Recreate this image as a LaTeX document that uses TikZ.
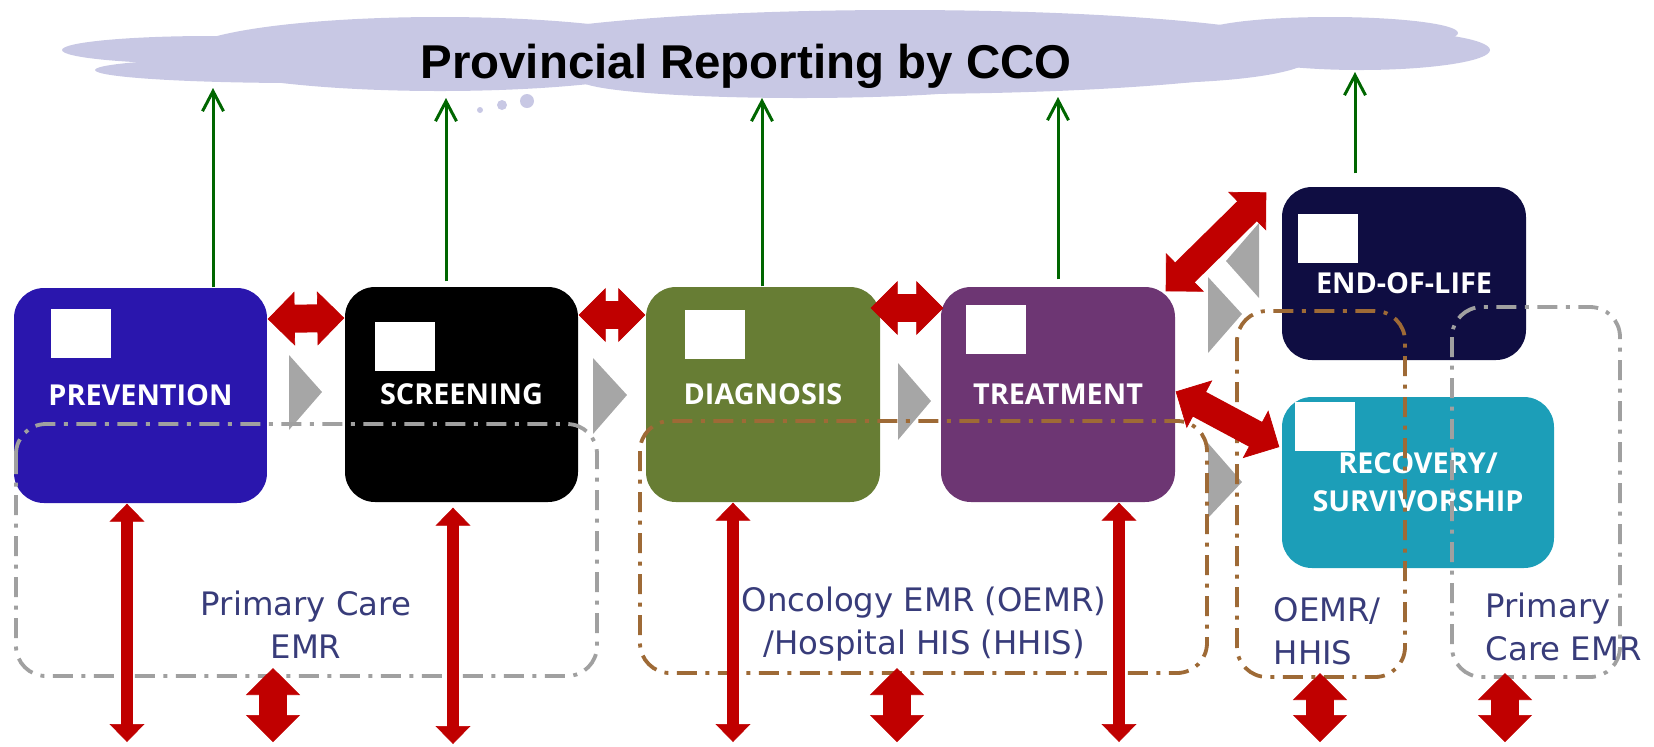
\documentclass[tikz,border=0pt]{standalone}
\usepackage{fontspec}
\setmainfont{DejaVu Sans}
\newfontfamily\stagefont{Open Sans}
\newfontfamily\cloudfont{Liberation Sans}
\usetikzlibrary{arrows.meta}

\definecolor{prevblue}{RGB}{42,22,173}
\definecolor{diaggreen}{RGB}{103,125,52}
\definecolor{treatpurple}{RGB}{109,54,115}
\definecolor{eolnavy}{RGB}{15,13,66}
\definecolor{recteal}{RGB}{28,158,184}
\definecolor{cloudlav}{RGB}{200,200,228}
\definecolor{linkred}{RGB}{192,0,0}
\definecolor{upgreen}{RGB}{0,102,0}
\definecolor{emrgrey}{RGB}{160,160,160}
\definecolor{emrbrown}{RGB}{158,106,54}
\definecolor{chevgrey}{RGB}{166,166,166}
\definecolor{emrtext}{RGB}{56,60,122}

\tikzset{
  stage/.style={rounded corners=3mm, inner sep=0pt, text=white, align=center,
    font=\stagefont\bfseries\fontsize{8.2}{10.8}\selectfont},
  icon/.style={fill=white, inner sep=0pt, minimum width=6mm, minimum height=4.9mm},
  report/.style={upgreen, line width=0.3mm, -{Straight Barb[length=2mm,width=2.1mm]}},
  fatlink/.style={linkred, line width=0.2pt,
    {Triangle[length=2.7mm,width=5.4mm]}-{Triangle[length=2.7mm,width=5.4mm]},
    preaction={draw=linkred, arrows=-, line width=2.8mm, shorten <=2.2mm, shorten >=2.2mm}},
  thinlink/.style={linkred, line width=0.2pt,
    {Triangle[length=1.8mm,width=3.5mm]}-{Triangle[length=1.8mm,width=3.5mm]},
    preaction={draw=linkred, arrows=-, line width=1.2mm, shorten <=1.4mm, shorten >=1.4mm}},
  emrbox/.style={line width=0.38mm, rounded corners=3mm,
    dash pattern=on 2mm off 0.85mm on 0.4mm off 0.85mm},
  emrlabel/.style={text=emrtext, inner sep=0pt, font=\fontsize{9.2}{12.2}\selectfont}
}

\begin{document}
\begin{tikzpicture}[x=0.1mm,y=-0.1mm]
\useasboundingbox (0,0) rectangle (1654,746);

% cloud
\fill[cloudlav] (210,50) ellipse [x radius=14.8mm, y radius=1.4mm];
\fill[cloudlav] (300,70) ellipse [x radius=20.5mm, y radius=1.3mm];
\fill[cloudlav] (440,54) ellipse [x radius=25.5mm, y radius=3.7mm];
\fill[cloudlav] (900,52) ellipse [x radius=42mm, y radius=4.2mm];
\fill[cloudlav] (800,80) ellipse [x radius=22mm, y radius=1.8mm];
\fill[cloudlav] (1150,58) ellipse [x radius=16mm, y radius=2.5mm];
\fill[cloudlav] (1330,33) ellipse [x radius=12.8mm, y radius=1.6mm];
\fill[cloudlav] (1360,50) ellipse [x radius=13mm, y radius=2mm];
\fill[cloudlav] (480,110) circle [radius=0.3mm];
\fill[cloudlav] (502,105) circle [radius=0.5mm];
\fill[cloudlav] (527,101) circle [radius=0.7mm];
\node[anchor=base, inner sep=0pt, font=\cloudfont\bfseries\fontsize{13.5}{16}\selectfont] (cco) at (746,78) {Provincial Reporting by CCO};

% stages
\node[stage, fill=prevblue, minimum width=25.3mm, minimum height=21.5mm] (prev) at (140.5,395.5) {PREVENTION};
\node[stage, fill=black, minimum width=23.3mm, minimum height=21.5mm] (scr) at (461.5,394.5) {SCREENING};
\node[stage, fill=diaggreen, minimum width=23.4mm, minimum height=21.5mm] (diag) at (763,394.5) {DIAGNOSIS};
\node[stage, fill=treatpurple, minimum width=23.4mm, minimum height=21.5mm] (treat) at (1058,394.5) {TREATMENT};
\node[stage, fill=eolnavy, minimum width=24.4mm, minimum height=17.3mm] (eol) at (1404,273.5) {\raisebox{-1mm}[\height][\depth]{END-OF-LIFE}};
\node[stage, fill=recteal, minimum width=27.2mm, minimum height=17.1mm] (rec) at (1418,482.5) {RECOVERY/\\SURVIVORSHIP};

\node[icon] (previcon) at (81,333.5) {};
\node[icon] (scricon) at (405,346.5) {};
\node[icon] (diagicon) at (715,334.5) {};
\node[icon] (treaticon) at (996,329.5) {};
\node[icon] (eolicon) at (1328,238.5) {};
\node[icon] (recicon) at (1325,426.5) {};

% chevrons
\fill[chevgrey] (289,355) -- (289,430) -- (322,392) -- cycle;
\fill[chevgrey] (593,358) -- (593,434) -- (627,395) -- cycle;
\fill[chevgrey] (898,363) -- (898,440) -- (931,401) -- cycle;
\fill[chevgrey] (1208,277) -- (1208,353) -- (1242,314) -- cycle;
\fill[chevgrey] (1259,223) -- (1259,298) -- (1226,261) -- cycle;
\fill[chevgrey] (1208,443) -- (1208,518) -- (1242,482) -- cycle;

% record systems
\draw[emrbox, emrgrey] (16,424) rectangle (597,676);
\draw[emrbox, emrbrown] (640,421) rectangle (1207,673);
\draw[emrbox, emrbrown] (1237,311) rectangle (1405,677);
\draw[emrbox, emrgrey] (1452,307) rectangle (1620,677);

\node[emrlabel, anchor=north, align=center] (pcemr) at (306,590) {Primary Care\\EMR};
\node[emrlabel, anchor=north, align=center] (oemr) at (924,586) {Oncology EMR (OEMR)\\/Hospital HIS (HHIS)};
\node[emrlabel, anchor=north west, align=left] (oemrb) at (1273,597) {OEMR/\\HHIS};
\node[emrlabel, anchor=north west, align=left] (pcemrb) at (1485,592) {Primary\\Care EMR};

% reporting to CCO
\coordinate (g1) at (213,88);
\coordinate (g2) at (446,98);
\coordinate (g3) at (762,98);
\coordinate (g4) at (1058,97);
\coordinate (g5) at (1355,72);
\draw[report] (g1 |- prev.north) -- (g1);
\draw[report, shorten <=0.5mm] (g2 |- scr.north) -- (g2);
\draw[report] (g3 |- diag.north) -- (g3);
\draw[report, shorten <=0.7mm] (g4 |- treat.north) -- (g4);
\draw[report, shorten <=1.3mm] (g5 |- eol.north) -- (g5);

% links between stages
\draw[fatlink] ([yshift=7.65mm]prev.east) -- ([yshift=7.65mm]scr.west);
\draw[fatlink] ([yshift=7.95mm]scr.east) -- ([yshift=7.95mm]diag.west);
\draw[fatlink] ([xshift=-1mm,yshift=8.65mm]diag.east) -- ([xshift=0.3mm,yshift=8.65mm]treat.west);
\draw[fatlink] ([xshift=-1mm,yshift=-0.5mm]treat.north east) -- ([xshift=-1.5mm,yshift=-0.6mm]eol.north west);
\draw[fatlink] ([yshift=0.3mm]treat.east) -- ([xshift=-0.2mm,yshift=3.55mm]rec.west);

% links to record systems
\coordinate (b1) at (127,742);
\coordinate (b2) at (453,744);
\coordinate (b3) at (733,742);
\coordinate (b4) at (1119,742);
\draw[thinlink] (b1 |- prev.south) -- (b1);
\draw[thinlink, shorten <=0.5mm] (b2 |- scr.south) -- (b2);
\draw[thinlink] (b3 |- diag.south) -- (b3);
\draw[thinlink] (b4 |- treat.south) -- (b4);

\coordinate (s1a) at (273,668); \coordinate (s1b) at (273,742);
\coordinate (s2a) at (897,668); \coordinate (s2b) at (897,742);
\coordinate (s3a) at (1320,673); \coordinate (s3b) at (1320,742);
\coordinate (s4a) at (1505,673); \coordinate (s4b) at (1505,742);
\draw[fatlink] (s1a) -- (s1b);
\draw[fatlink] (s2a) -- (s2b);
\draw[fatlink] (s3a) -- (s3b);
\draw[fatlink] (s4a) -- (s4b);
\end{tikzpicture}
\end{document}
